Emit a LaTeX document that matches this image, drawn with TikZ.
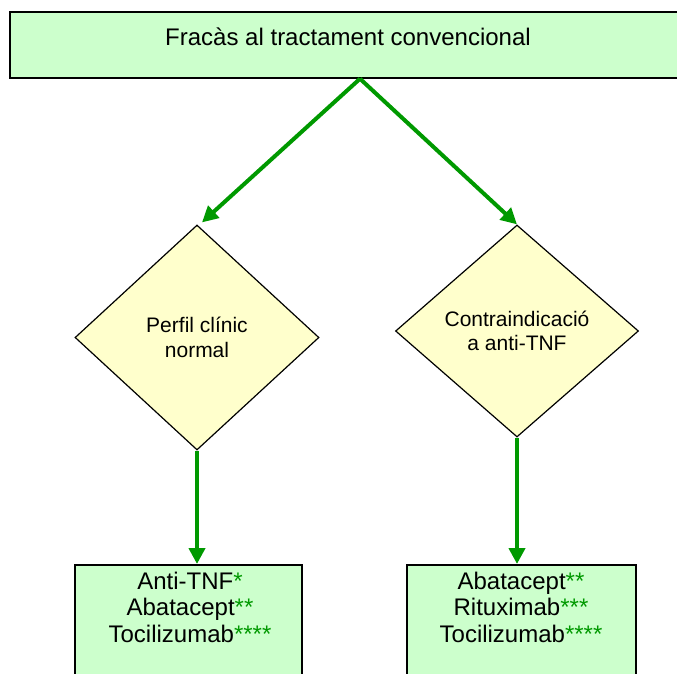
\documentclass[tikz,border=0pt]{standalone}
\usepackage{fontspec}
\setmainfont{Liberation Sans}
\usetikzlibrary{shapes.geometric,arrows.meta}
\definecolor{boxgreen}{HTML}{CCFFCC}
\definecolor{diayellow}{HTML}{FFFFCC}
\definecolor{arrgreen}{HTML}{009900}
\newcommand{\gs}[1]{\textcolor{arrgreen}{#1}}
\tikzset{
  greenbox/.style={draw=black, line width=1.5pt, fill=boxgreen, rectangle, inner sep=0pt},
  decision/.style={draw=black, line width=1.2pt, fill=diayellow, diamond, inner sep=0pt,
    align=center, font=\fontsize{21}{24.5}\selectfont},
  bigtext/.style={align=center, inner sep=0pt, font=\fontsize{24}{26.3}\selectfont},
  flow/.style={draw=arrgreen, line width=4pt, -{Triangle[length=16pt,width=16pt]}},
}
\begin{document}
\begin{tikzpicture}[x=1pt,y=-1pt]
\useasboundingbox (0,0) rectangle (677,673);
\clip (0,0) rectangle (677,673);
\node[greenbox, minimum width=700pt, minimum height=66pt] (top) at (360,45) {};
\node[bigtext, anchor=base] (toptext) at (348,45) {Fracàs al tractament convencional};
\node[decision, minimum width=244pt, minimum height=225pt] (ld) at (197,337.5) {Perfil clínic\\normal};
\node[decision, minimum width=243pt, minimum height=212pt] (rd) at (517,331) {Contraindicació\\a anti-TNF};
\node[greenbox, minimum width=227pt, minimum height=160pt, anchor=north] (lb) at (188.5,564) {};
\node[greenbox, minimum width=229pt, minimum height=160pt, anchor=north] (rb) at (521.5,564) {};
\node[bigtext, anchor=north] (lt) at (190,572) {Anti-TNF\gs{*}\\Abatacept\gs{**}\\Tocilizumab\gs{****}};
\node[bigtext, anchor=north] (rt) at (521,572) {Abatacept\gs{**}\\Rituximab\gs{***}\\Tocilizumab\gs{****}};
\draw[flow] (top.south) -- ([xshift=5pt,yshift=2pt]ld.north);
\draw[flow] (top.south) -- (rd.north);
\draw[flow] (ld.south) -- (ld.south |- lb.north);
\draw[flow] (rd.south) -- (rd.south |- rb.north);
\end{tikzpicture}
\end{document}
